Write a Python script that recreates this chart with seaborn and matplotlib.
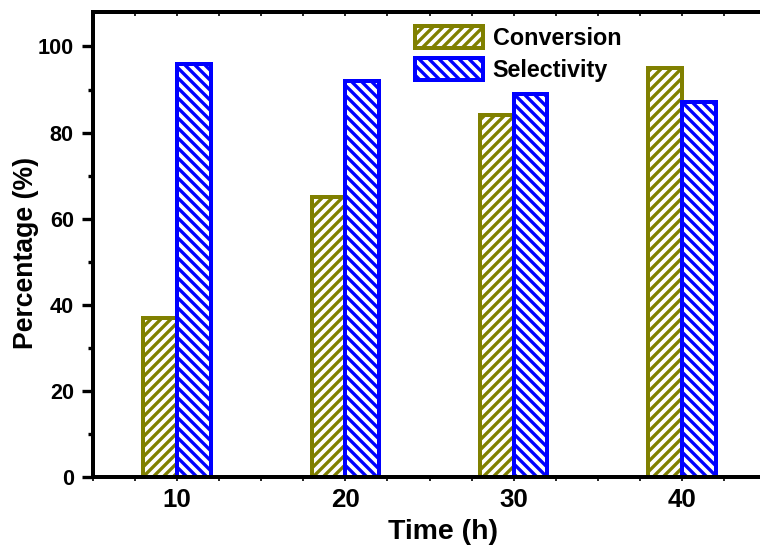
import numpy as np
import pandas as pd
import matplotlib
matplotlib.use("Agg")
import matplotlib.pyplot as plt
from matplotlib.patches import Patch
from matplotlib.ticker import MultipleLocator
import seaborn as sns

times = ["10", "20", "30", "40"]
conversion = [37, 65, 84, 95]
selectivity = [96, 92, 89, 87]
series_names = ["Conversion", "Selectivity"]
colors = {"Conversion": "#808000", "Selectivity": "#0000FF"}
hatches = {"Conversion": "////", "Selectivity": "\\\\\\\\"}

sns.set_style("ticks")
plt.rcParams["font.family"] = ["Liberation Sans", "DejaVu Sans"]
plt.rcParams["font.weight"] = "bold"
plt.rcParams["hatch.linewidth"] = 2.0
for k in ["text.color", "axes.labelcolor", "xtick.color", "ytick.color",
          "axes.edgecolor"]:
    plt.rcParams[k] = "black"

df = pd.DataFrame({
    "Time": times * 2,
    "Value": conversion + selectivity,
    "Series": [series_names[0]] * len(times) + [series_names[1]] * len(times),
})

fig = plt.figure(figsize=(760 / 120, 550 / 120), dpi=120)
ax = fig.add_axes([93 / 760, 1 - 477 / 550, 673 / 760, 465 / 550])

sns.barplot(data=df, x="Time", y="Value", hue="Series", order=times,
            hue_order=series_names, palette=colors, width=0.4, gap=0,
            ax=ax, legend=False, errorbar=None)

for cont, name in zip(ax.containers, series_names):
    for p in cont:
        p.set_facecolor("white")
        p.set_edgecolor(colors[name])
        p.set_hatch(hatches[name])
        p.set_linewidth(2.4)

ax.set_xlim(-0.5, 3.5)
ax.set_ylim(0, 108)

for s in ["left", "bottom", "top"]:
    ax.spines[s].set_linewidth(2.4)
    ax.spines[s].set_color("black")
ax.spines["right"].set_visible(False)

ax.yaxis.set_major_locator(MultipleLocator(20))
ax.yaxis.set_minor_locator(MultipleLocator(10))
ax.xaxis.set_minor_locator(MultipleLocator(0.25))
ax.tick_params(axis="y", which="major", direction="out", length=6.5, width=2,
               labelsize=13, pad=5, colors="black")
ax.tick_params(axis="y", which="minor", direction="out", length=3, width=2,
               colors="black")
ax.tick_params(axis="x", which="both", direction="out", length=2.5, width=1,
               labelsize=15.5, pad=4, colors="black")
for lab in ax.get_xticklabels() + ax.get_yticklabels():
    lab.set_fontweight("bold")

sec = ax.secondary_xaxis("top")
sec.set_xticks(np.arange(-0.5, 3.51, 0.25))
sec.tick_params(direction="in", length=2.5, width=1, labeltop=False,
                colors="black")
sec.spines["top"].set_linewidth(2.4)
sec.spines["top"].set_color("black")

ax.set_xlabel("Time (h)", fontsize=17, fontweight="bold", color="black")
ax.set_ylabel("Percentage (%)", fontsize=16, fontweight="bold", color="black")
ax.xaxis.set_label_coords(0.52, -0.09)
ax.yaxis.set_label_coords(-0.08, 0.482)

handles = [Patch(facecolor="white", edgecolor=colors[n], hatch=hatches[n],
                 linewidth=2.4, label=n) for n in series_names]
ax.legend(handles=handles, loc="upper left", bbox_to_anchor=(0.479, 0.97),
          frameon=False, borderpad=0, borderaxespad=0, handlelength=2.9,
          handleheight=1.07, labelspacing=0.34, handletextpad=0.42,
          prop={"size": 14, "weight": "bold"}, labelcolor="black")

fig.savefig("out.png", dpi=120)
